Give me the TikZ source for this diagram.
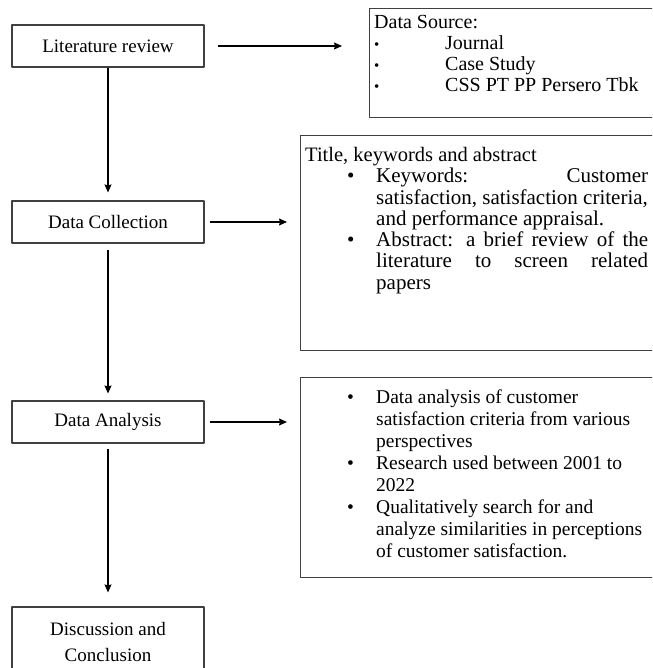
\documentclass[tikz,border=0pt]{standalone}
\usepackage{fontspec}
\setmainfont{Liberation Serif}
\usetikzlibrary{arrows.meta}
\newcommand{\jl}[1]{\makebox[272pt][s]{#1}}
\newcommand{\bulitem}{\hspace*{42pt}\makebox[29pt][l]{\textbullet}}
\newcommand{\contline}{\hspace*{71pt}}
\begin{document}
\begin{tikzpicture}[x=1pt, y=1pt, line join=round, >={Stealth[length=8pt,width=7pt,inset=1pt]},
	stepbox/.style={draw=black!75, line width=1.1pt, minimum width=192pt, minimum height=42pt, align=center, font=\fontsize{19}{26}\selectfont},
	infobox/.style={draw=black!75, line width=1.1pt, anchor=north west, minimum width=400pt, inner sep=0pt},
	infotext/.style={anchor=north west, align=left, inner sep=0pt, font=\fontsize{21}{21.3}\selectfont},
	link/.style={->, line width=1.2pt}]
	\clip (0,0) rectangle (652,-668);
	\node[stepbox] (lit) at (108,-46) {Literature review};
	\node[stepbox] (col) at (108,-222) {Data Collection};
	\node[stepbox] (ana) at (108,-422) {Data Analysis};
	\node[stepbox, minimum height=70pt] (dis) at (108,-642) {Discussion and\\Conclusion};
	
	\node[infobox, minimum height=109pt] (src) at (369,-8) {};
	\node[infobox, minimum height=215pt] (kw) at (300,-135) {};
	\node[infobox, minimum height=200pt] (res) at (300,-377) {};
	
	\node[infotext, font=\fontsize{20}{21}\selectfont] (srctxt) at (374,-15) {Data Source:\\
		\makebox[71pt][l]{\fontsize{15}{15}\selectfont\textbullet}Journal\\
		\makebox[71pt][l]{\fontsize{15}{15}\selectfont\textbullet}Case Study\\
		\makebox[71pt][l]{\fontsize{15}{15}\selectfont\textbullet}CSS PT PP Persero Tbk};
	\node[infotext] (kwtxt) at (305,-147) {{\fontsize{20.5}{21.3}\selectfont Title, keywords and abstract}\\
		\bulitem\jl{Keywords: Customer}\\
		\contline satisfaction, satisfaction criteria,\\
		\contline and performance appraisal.\\
		\bulitem\jl{Abstract: a brief review of the}\\
		\contline\jl{literature to screen related}\\
		\contline papers};
	\node[infotext, font=\fontsize{19.5}{22}\selectfont] (restxt) at (305,-390) {\bulitem Data analysis of customer\\
		\contline satisfaction criteria from various\\
		\contline perspectives\\
		\bulitem Research used between 2001 to\\
		\contline 2022\\
		\bulitem Qualitatively search for and\\
		\contline analyze similarities in perceptions\\
		\contline of customer satisfaction.};
	
	\draw[link, shorten >=8pt] (lit.south) -- (col.north);
	\draw[link, shorten <=6pt, shorten >=7pt] (col.south) -- (ana.north);
	\draw[link, shorten <=5pt, shorten >=14pt] (ana.south) -- (dis.north);
	\draw[link, shorten <=13pt, shorten >=27pt] (lit.east) -- (lit.east -| src.west);
	\draw[link, shorten <=5pt, shorten >=13pt] (col.east) -- (col.east -| kw.west);
	\draw[link, shorten <=5pt, shorten >=13pt] (ana.east) -- (ana.east -| res.west);
\end{tikzpicture}
\end{document}
